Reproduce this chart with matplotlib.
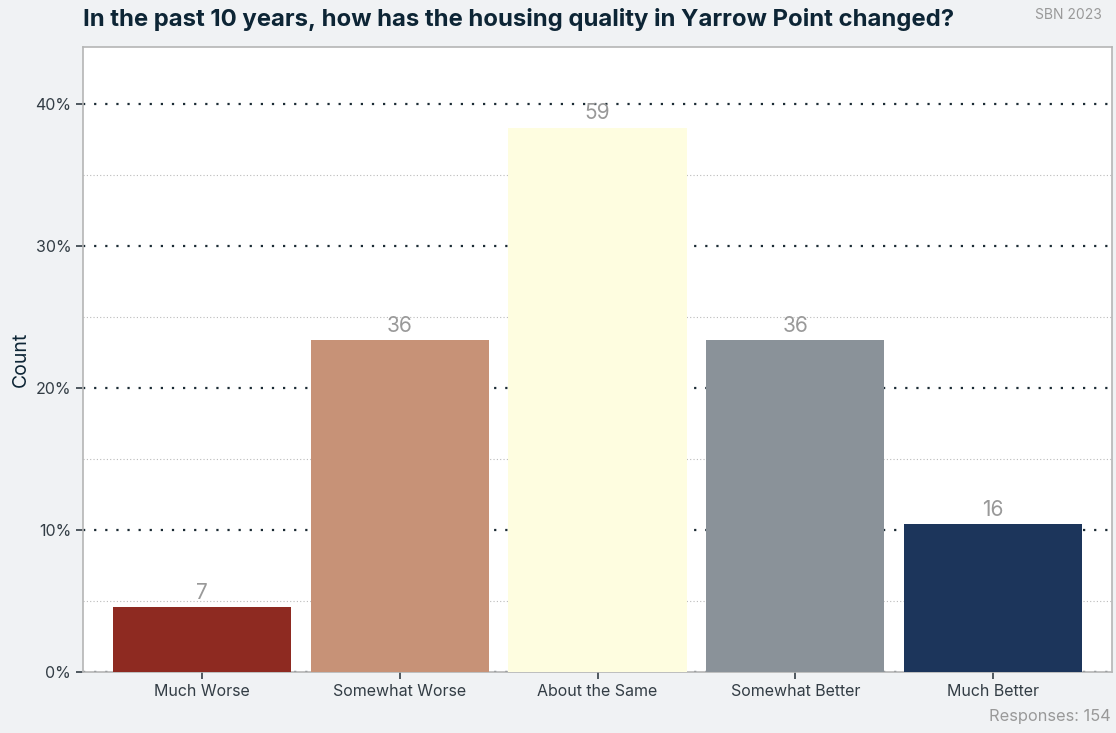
import matplotlib.pyplot as plt
import numpy as np

plt.rcParams['font.family'] = ['Inter', 'DejaVu Sans']

categories = ["Much Worse", "Somewhat Worse", "About the Same", "Somewhat Better", "Much Better"]
counts = [7, 36, 59, 36, 16]
colors = ["#8e2a21", "#c79277", "#fefde0", "#8a9299", "#1c355b"]
total = 154

pct = np.array(counts) / total

fig = plt.figure(figsize=(11.16, 7.33), dpi=100, facecolor="#f0f2f4")
ax = fig.add_axes([0.0744, 0.0832, 0.9220, 0.8528])
ax.set_facecolor("white")

x = np.arange(len(categories))
ax.bar(x, pct, width=0.9, color=colors, zorder=3)

for xi, p, c in zip(x, pct, counts):
    ax.text(xi, p + 0.003, str(c), ha="center", va="bottom", fontsize=15, color="#999999", zorder=4)

ax.set_xlim(-0.6, 4.6)
ax.set_ylim(0, 0.44)
ax.set_yticks([0, 0.1, 0.2, 0.3, 0.4])
ax.set_yticklabels(["0%", "10%", "20%", "30%", "40%"])
ax.set_yticks([0.05, 0.15, 0.25, 0.35], minor=True)
ax.set_xticks(x)
ax.set_xticklabels(categories)

ax.grid(axis="y", which="major", linestyle=(0, (1, 4)), linewidth=1.6, color="#1a2a33", zorder=1)
ax.grid(axis="y", which="minor", linestyle=(0, (1, 2)), linewidth=0.8, color="#bbbbbb", zorder=1)
ax.tick_params(axis="y", which="minor", length=0)
ax.tick_params(axis="both", which="major", labelsize=11.5, colors="#333d45", length=5, width=1.2)

for s in ax.spines.values():
    s.set_color("#b5b5b5")
    s.set_linewidth(1.2)

ax.set_ylabel("Count", fontsize=14, color="#0d2535")

fig.text(0.0744, 0.973, "In the past 10 years, how has the housing quality in Yarrow Point changed?",
         fontsize=17.2, fontweight="bold", color="#0d2535", ha="left", va="center")
fig.text(0.9875, 0.979, "SBN 2023", fontsize=10, color="#999999", ha="right", va="center")
fig.text(0.9955, 0.022, "Responses: 154", fontsize=11.8, color="#999999", ha="right", va="center")

fig.savefig("out.png", dpi=100, facecolor=fig.get_facecolor())
